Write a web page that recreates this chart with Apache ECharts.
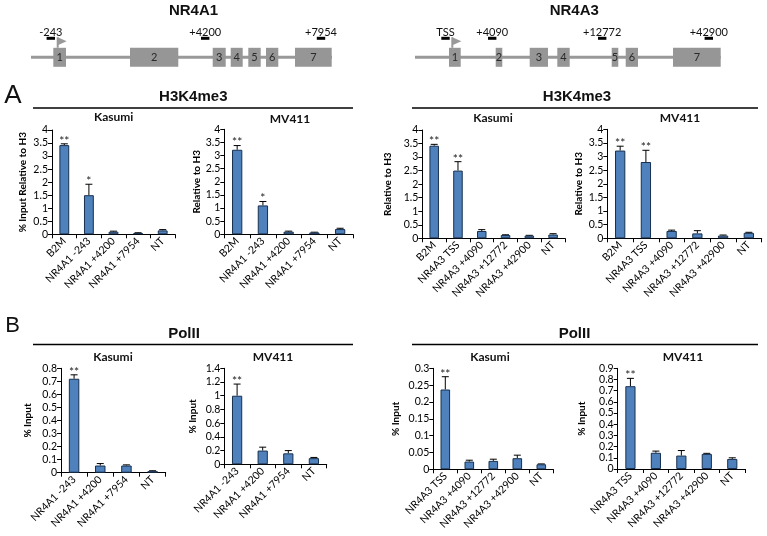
<!DOCTYPE html>
<html><head><meta charset="utf-8">
<script src="https://cdn.jsdelivr.net/npm/echarts@6/dist/echarts.min.js"></script>
<style>html,body{margin:0;padding:0;background:#fff}#c{width:767px;height:536px}</style>
</head><body><div id="c"></div>
<script>
// ---------- categories ----------
const catH3K4_NR4A1 = ['B2M', 'NR4A1 -243', 'NR4A1 +4200', 'NR4A1 +7954', 'NT'];
const catH3K4_NR4A3 = ['B2M', 'NR4A3 TSS', 'NR4A3 +4090', 'NR4A3 +12772', 'NR4A3 +42900', 'NT'];
const catPol_NR4A1 = ['NR4A1 -243', 'NR4A1 +4200', 'NR4A1 +7954', 'NT'];
const catPol_NR4A3 = ['NR4A3 TSS', 'NR4A3 +4090', 'NR4A3 +12772', 'NR4A3 +42900', 'NT'];

// ---------- values (mean), error (upper SD), significance ----------
const h3NR4A1Kasumi = [3.42, 1.50, 0.10, 0.05, 0.15];
const h3NR4A1KasumiErr = [0.05, 0.42, 0.02, 0.01, 0.03];
const h3NR4A1KasumiSig = ['**', '*', '', '', ''];

const h3NR4A1MV411 = [3.22, 1.10, 0.10, 0.07, 0.20];
const h3NR4A1MV411Err = [0.16, 0.15, 0.02, 0.01, 0.03];
const h3NR4A1MV411Sig = ['**', '*', '', '', ''];

const h3NR4A3Kasumi = [3.42, 2.50, 0.27, 0.12, 0.10, 0.14];
const h3NR4A3KasumiErr = [0.05, 0.33, 0.05, 0.01, 0.01, 0.03];
const h3NR4A3KasumiSig = ['**', '**', '', '', '', ''];

const h3NR4A3MV411 = [3.22, 2.80, 0.27, 0.18, 0.10, 0.20];
const h3NR4A3MV411Err = [0.16, 0.43, 0.03, 0.10, 0.02, 0.02];
const h3NR4A3MV411Sig = ['**', '**', '', '', '', ''];

const polNR4A1Kasumi = [0.72, 0.055, 0.055, 0.012];
const polNR4A1KasumiErr = [0.03, 0.015, 0.005, 0.003];
const polNR4A1KasumiSig = ['**', '', '', ''];

const polNR4A1MV411 = [1.00, 0.20, 0.16, 0.09];
const polNR4A1MV411Err = [0.17, 0.05, 0.04, 0.01];
const polNR4A1MV411Sig = ['**', '', '', ''];

const polNR4A3Kasumi = [0.237, 0.023, 0.025, 0.033, 0.015];
const polNR4A3KasumiErr = [0.038, 0.004, 0.005, 0.009, 0.001];
const polNR4A3KasumiSig = ['**', '', '', '', ''];

const polNR4A3MV411 = [0.74, 0.145, 0.12, 0.135, 0.09];
const polNR4A3MV411Err = [0.07, 0.015, 0.045, 0.005, 0.01];
const polNR4A3MV411Sig = ['**', '', '', '', ''];

// ---------- y-axis scales ----------
const yMaxes = [4, 4, 4, 4, 0.8, 1.4, 0.3, 0.9];
const yIntervals = [0.5, 0.5, 0.5, 0.5, 0.1, 0.2, 0.05, 0.1];
const yNames = ['% Input Relative to H3', 'Relative to H3', 'Relative to H3', 'Relative to H3', '% Input', '% Input', '% Input', '% Input'];
const cellLines = ['Kasumi', 'MV411', 'Kasumi', 'MV411', 'Kasumi', 'MV411', 'Kasumi', 'MV411'];

// ---------- gene structures (diagram units along the drawn gene) ----------
const nr4a1Length = 301;
const nr4a1Exons = [[22.3, 35], [99, 147.3], [181.7, 194.7], [199.7, 211.7], [217.3, 229.7], [235, 247.3], [264, 300.7]];
const nr4a1Primers = [19.8, 174.2, 290];
const nr4a1PrimerLabels = ['-243', '+4200', '+7954'];
const nr4a1Tss = [26.7];

const nr4a3Length = 305.7;
const nr4a3Exons = [[34, 45.7], [80.7, 87.3], [114.7, 133], [142.3, 154.7], [196.7, 203.3], [210.7, 223], [258, 305.7]];
const nr4a3Primers = [30.5, 77.2, 187.2, 293.8];
const nr4a3PrimerLabels = ['TSS', '+4090', '+12772', '+42900'];
const nr4a3Tss = [37.3];

// ---------- layout (styling only) ----------
const layouts = [
  {left: 52, top: 130, width: 123, height: 104.3, gap: 24, tx: 113.7, ty: 117},
  {left: 224.3, top: 129.3, width: 128.7, height: 105, gap: 22, tx: 290, ty: 119},
  {left: 422.3, top: 130, width: 142.7, height: 108.3, gap: 30, tx: 493, ty: 118},
  {left: 607.3, top: 129.3, width: 154.4, height: 109, gap: 24, tx: 680, ty: 118},
  {left: 61, top: 368.3, width: 104.7, height: 104.4, gap: 28, tx: 113, ty: 357},
  {left: 224.3, top: 368.3, width: 102.4, height: 96, gap: 27, tx: 273, ty: 357},
  {left: 433.3, top: 368.3, width: 120, height: 101, gap: 33, tx: 490, ty: 357},
  {left: 617.7, top: 368.3, width: 127.3, height: 100.7, gap: 31, tx: 683, ty: 357}
];

const panelData = [
  [catH3K4_NR4A1, h3NR4A1Kasumi, h3NR4A1KasumiErr, h3NR4A1KasumiSig],
  [catH3K4_NR4A1, h3NR4A1MV411, h3NR4A1MV411Err, h3NR4A1MV411Sig],
  [catH3K4_NR4A3, h3NR4A3Kasumi, h3NR4A3KasumiErr, h3NR4A3KasumiSig],
  [catH3K4_NR4A3, h3NR4A3MV411, h3NR4A3MV411Err, h3NR4A3MV411Sig],
  [catPol_NR4A1, polNR4A1Kasumi, polNR4A1KasumiErr, polNR4A1KasumiSig],
  [catPol_NR4A1, polNR4A1MV411, polNR4A1MV411Err, polNR4A1MV411Sig],
  [catPol_NR4A3, polNR4A3Kasumi, polNR4A3KasumiErr, polNR4A3KasumiSig],
  [catPol_NR4A3, polNR4A3MV411, polNR4A3MV411Err, polNR4A3MV411Sig]
];

const FONT = 'Lato';
const grids = [], xAxes = [], yAxes = [], series = [];

panelData.forEach((pd, k) => {
  const [cats, vals, errs, sigs] = pd;
  const L = layouts[k];
  grids.push({left: L.left, top: L.top, width: L.width, height: L.height, containLabel: false, outerBoundsMode: 'none'});
  xAxes.push({
    type: 'category', gridIndex: k, data: cats,
    axisLine: {show: true, lineStyle: {color: '#000', width: 1}},
    axisTick: {show: true, inside: false, length: 4, alignWithLabel: false, lineStyle: {color: '#000'}},
    axisLabel: {show: true, interval: 0, rotate: 45, fontSize: 10.5, fontFamily: FONT, color: '#000', margin: 5},
    splitLine: {show: false}
  });
  yAxes.push({
    type: 'value', gridIndex: k, min: 0, max: yMaxes[k], interval: yIntervals[k],
    name: yNames[k], nameLocation: 'middle', nameGap: L.gap, nameRotate: 90,
    nameTextStyle: {fontSize: 10, fontWeight: 'bold', fontFamily: FONT, color: '#000'},
    axisLine: {show: true, lineStyle: {color: '#000', width: 1}},
    axisTick: {show: true, inside: false, length: 4, lineStyle: {color: '#000'}},
    axisLabel: {show: true, fontSize: 10.5, fontFamily: FONT, color: '#000', margin: 4,
      formatter: v => String(+v.toFixed(3))},
    splitLine: {show: false}
  });
  series.push({
    type: 'bar', xAxisIndex: k, yAxisIndex: k, data: vals, barWidth: '40%',
    itemStyle: {color: '#4f81bd', borderColor: '#17304f', borderWidth: 1},
    silent: true, animation: false
  });
  series.push({
    type: 'custom', xAxisIndex: k, yAxisIndex: k, silent: true, animation: false,
    data: vals.map((v, i) => [i, v, errs[i]]),
    encode: {x: 0, y: 1},
    renderItem: (params, api) => {
      const i = api.value(0), v = api.value(1), e = api.value(2);
      const p0 = api.coord([i, v]);
      const p1 = api.coord([i, v + e]);
      const hw = 3.5;
      const children = [
        {type: 'line', shape: {x1: p0[0], y1: p0[1], x2: p1[0], y2: p1[1]}, style: {stroke: '#000', lineWidth: 1}},
        {type: 'line', shape: {x1: p1[0] - hw, y1: p1[1], x2: p1[0] + hw, y2: p1[1]}, style: {stroke: '#000', lineWidth: 1}}
      ];
      const s = sigs[params.dataIndex];
      if (s) {
        children.push({type: 'text', x: p1[0], y: p1[1] + 3,
          style: {text: s, fill: '#222', font: '12px ' + FONT, textAlign: 'center', textVerticalAlign: 'bottom'}});
      }
      return {type: 'group', children};
    }
  });
});

// ---------- gene diagrams ----------
function addGene(idx, left, len, exons, primers, plabels, tss) {
  grids.push({left: left, top: 37.3, width: len, height: 40, containLabel: false, outerBoundsMode: 'none'});
  xAxes.push({type: 'value', gridIndex: idx, min: 0, max: len, show: false});
  yAxes.push({type: 'value', gridIndex: idx, min: 0, max: 1, show: false});
  series.push({
    type: 'line', xAxisIndex: idx, yAxisIndex: idx, data: [[0, 0.5], [len, 0.5]],
    showSymbol: false, symbol: 'none', lineStyle: {color: '#999', width: 3}, silent: true, animation: false, z: 1
  });
  series.push({
    type: 'custom', xAxisIndex: idx, yAxisIndex: idx, silent: true, animation: false, z: 2,
    data: exons, encode: {x: [0, 1]},
    renderItem: (params, api) => {
      const a = api.coord([api.value(0), 0.5]);
      const b = api.coord([api.value(1), 0.5]);
      return {type: 'group', children: [
        {type: 'rect', shape: {x: a[0], y: a[1] - 9.5, width: b[0] - a[0], height: 19}, style: {fill: '#969696'}},
        {type: 'text', x: (a[0] + b[0]) / 2, y: a[1] + 0.5,
          style: {text: String(params.dataIndex + 1), fill: '#2a2a2a', font: '11px ' + FONT, textAlign: 'center', textVerticalAlign: 'middle'}}
      ]};
    }
  });
  series.push({
    type: 'custom', xAxisIndex: idx, yAxisIndex: idx, silent: true, animation: false, z: 3,
    data: primers.map(p => [p]), encode: {x: 0},
    renderItem: (params, api) => {
      const c = api.coord([api.value(0), 0.5]);
      return {type: 'group', children: [
        {type: 'rect', shape: {x: c[0] - 4.2, y: c[1] - 20.5, width: 8.4, height: 3}, style: {fill: '#000'}},
        {type: 'text', x: c[0], y: c[1] - 24.6,
          style: {text: plabels[params.dataIndex], fill: '#111', font: '11px ' + FONT, textAlign: 'center', textVerticalAlign: 'middle'}}
      ]};
    }
  });
  series.push({
    type: 'custom', xAxisIndex: idx, yAxisIndex: idx, silent: true, animation: false, z: 4,
    data: tss.map(p => [p]), encode: {x: 0},
    renderItem: (params, api) => {
      const c = api.coord([api.value(0), 0.5]);
      const top = c[1] - 20;
      return {type: 'group', children: [
        {type: 'line', shape: {x1: c[0], y1: c[1] - 9.5, x2: c[0], y2: top}, style: {stroke: '#999', lineWidth: 2}},
        {type: 'polygon', shape: {points: [[c[0], top], [c[0] + 9, top + 4], [c[0], top + 8]]}, style: {fill: '#999'}}
      ]};
    }
  });
}
addGene(8, 31, nr4a1Length, nr4a1Exons, nr4a1Primers, nr4a1PrimerLabels, nr4a1Tss);
addGene(9, 415, nr4a3Length, nr4a3Exons, nr4a3Primers, nr4a3PrimerLabels, nr4a3Tss);

// ---------- text & separators ----------
const graphic = [];
const bigTitle = (t, x, y) => graphic.push({type: 'text', x, y, style: {text: t, font: 'bold 15px "Liberation Sans", Arial', fill: '#111', textAlign: 'center', textVerticalAlign: 'middle'}});
bigTitle('NR4A1', 193.5, 10.5);
bigTitle('NR4A3', 574.3, 10.5);
const secTitle = (t, x, y) => graphic.push({type: 'text', x, y, style: {text: t, font: 'bold 15px "Liberation Sans", Arial', fill: '#111', textAlign: 'center', textVerticalAlign: 'middle'}});
secTitle('H3K4me3', 193.3, 96.5);
secTitle('H3K4me3', 577, 96.5);
secTitle('PolII', 184, 333.5);
secTitle('PolII', 574.5, 333.5);
const sep = (x1, x2, y) => graphic.push({type: 'line', shape: {x1, y1: y, x2, y2: y}, style: {stroke: '#000', lineWidth: 1.5}});
sep(33, 353, 108); sep(412, 758, 108);
sep(33, 353, 344.5); sep(412, 758, 344.5);
graphic.push({type: 'text', x: 13, y: 96, style: {text: 'A', font: '26px "Liberation Sans", Arial', fill: '#111', textAlign: 'center', textVerticalAlign: 'middle'}});
graphic.push({type: 'text', x: 12.5, y: 326, style: {text: 'B', font: '22px "Liberation Sans", Arial', fill: '#111', textAlign: 'center', textVerticalAlign: 'middle'}});
layouts.forEach((L, k) => graphic.push({type: 'text', x: L.tx, y: L.ty,
  style: {text: cellLines[k], font: 'bold 12px ' + FONT, fill: '#111', textAlign: 'center', textVerticalAlign: 'middle'}}));

const chart = echarts.init(document.getElementById('c'), null, {renderer: 'canvas'});
chart.setOption({
  animation: false,
  backgroundColor: '#fff',
  grid: grids, xAxis: xAxes, yAxis: yAxes, series: series, graphic: graphic
});
</script>
</body></html>
